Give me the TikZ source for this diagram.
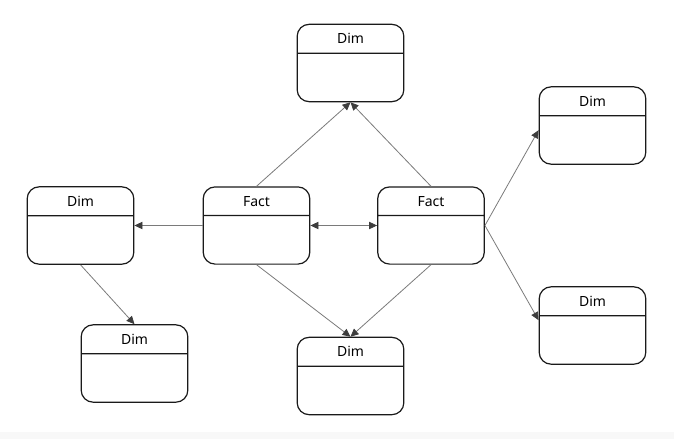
\documentclass[tikz,border=0pt]{standalone}
\usepackage{tikz}
\usetikzlibrary{arrows.meta, shapes.multipart}
\usepackage{fontspec}
\setmainfont{Noto Sans}
\usepackage{xcolor}
\definecolor{boxline}{HTML}{1A1A1A}
\definecolor{linkgray}{HTML}{7A7A7A}
\definecolor{tipgray}{HTML}{3D3D3D}
\definecolor{stripgray}{HTML}{F8F8F8}

\begin{document}
\begin{tikzpicture}[x=0.75pt, y=-0.75pt,
    tablebox/.style={rectangle split, rectangle split parts=2, draw=boxline,
      line width=0.9pt, rounded corners=9pt, fill=white,
      minimum width=80pt, inner ysep=6.5pt, align=center,
      font=\fontsize{10.5}{12}\selectfont},
    link/.style={draw=linkgray, line width=0.6pt,
      -{Triangle[length=6pt, width=5.5pt, color=tipgray]}}]
      \useasboundingbox (0,0) rectangle (674,439);
      \fill[stripgray] (0,432) rectangle (674,439);
      % tables
      \foreach \nm/\x/\y/\lbl in {
        dimT/350.5/63/Dim, dimRU/592.5/125.5/Dim, dimRL/592.5/325.5/Dim,
        dimL/80.5/225.5/Dim, dimBL/134.5/363.5/Dim, dimB/350.5/376/Dim,
        factL/256.5/225.5/Fact, factR/431/225.5/Fact}{
        \node[tablebox] (\nm) at (\x,\y) {\lbl\nodepart{two}\rule{0pt}{22.5pt}};
      }
      % links
      \foreach \a/\b in {factL.west/dimL.east, factL.north/dimT.south,
        factR.north/dimT.south, factL.south/dimB.north,
        factR.south/dimB.north, dimL.south/dimBL.north}{
        \draw[link] (\a) -- (\b);
      }
      \draw[link] (factR.east) -- ([yshift=-3.5pt]dimRU.west);
      \draw[link] (factR.east) -- ([yshift=4pt]dimRL.west);
      \draw[link, {Triangle[length=6pt, width=5.5pt, color=tipgray]}-{Triangle[length=6pt, width=5.5pt, color=tipgray]}]
        (factL.east) -- (factR.west);
    \end{tikzpicture}
\end{document}
